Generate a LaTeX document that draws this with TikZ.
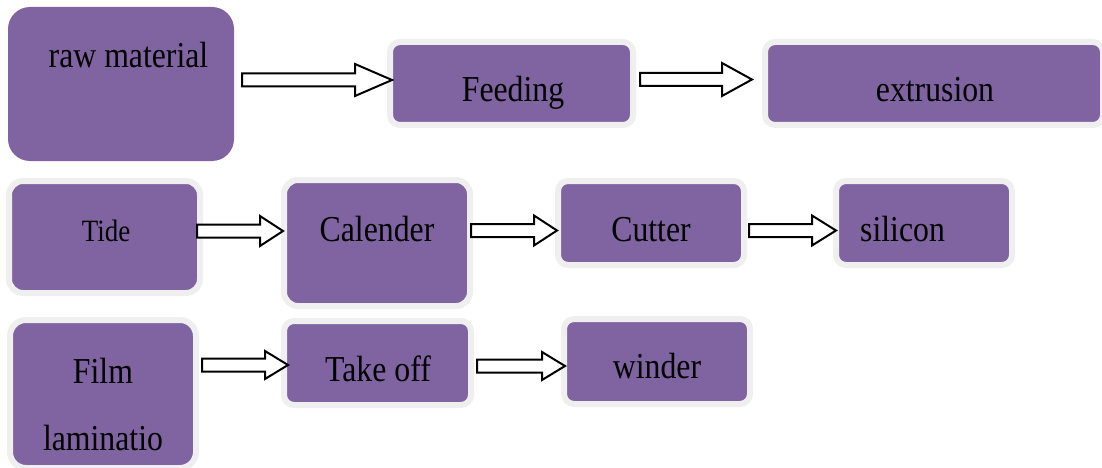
\documentclass[tikz,border=0pt]{standalone}
\usepackage{fontspec}
\setmainfont{Liberation Serif}
\newfontfamily\capfont[FakeStretch=0.87]{Liberation Serif}
\usetikzlibrary{calc}
\definecolor{boxpurple}{HTML}{8064A2}
\definecolor{halo}{HTML}{EFEFEF}
\tikzset{
  stage/.style={fill=boxpurple, draw=halo, line width=6pt, inner sep=0pt},
  plainstage/.style={fill=boxpurple, draw=none, inner sep=0pt},
  caption/.style={anchor=base, inner sep=0pt, font=\capfont\fontsize{36.5}{40}\selectfont, text=black},
  smallcaption/.style={caption, font=\capfont\fontsize{31}{34}\selectfont},
  flowarrow/.style={draw=black, fill=white, line width=2pt, line join=miter},
}
% \stagebox{name}{left}{top}{right}{bottom}{corner radius}: purple area bounds
\newcommand\stagebox[6]{%
  \node[stage, rounded corners=#6pt,
        minimum width={#4-#2+6}, minimum height={#5-#3+6}]
    (#1) at ({(#2+#4)/2},{(#3+#5)/2}) {};}
% \blockarrow{tail}{tip}{head length}{head half width}
\newcommand\blockarrow[4]{%
  \draw[flowarrow] let \p1=(#1), \p2=(#2) in
    (\x1,{\y1+6.5pt}) -- ({\x2-#3pt},{\y1+6.5pt}) -- ({\x2-#3pt},{\y1+#4pt})
    -- (\x2,\y1) -- ({\x2-#3pt},{\y1-#4pt}) -- ({\x2-#3pt},{\y1-6.5pt})
    -- (\x1,{\y1-6.5pt}) -- cycle;}
\begin{document}
\begin{tikzpicture}[x=1pt, y=-1pt]
\useasboundingbox (0,0) rectangle (1102,468);

% first row
\node[plainstage, rounded corners=22pt, minimum width=226, minimum height=154]
  (raw) at (121,84) {};
\stagebox{feed}{393}{45}{630}{122}{10}
\stagebox{extr}{768}{45}{1100}{122}{10}

% second row
\stagebox{tide}{12}{184}{197}{290}{14}
\stagebox{cal}{287}{183}{467}{303}{14}
\stagebox{cut}{561}{184}{741}{262}{10}
\stagebox{sil}{839}{184}{1009}{262}{10}

% third row
\stagebox{film}{13}{323}{193}{465}{16}
\stagebox{take}{287}{324}{468}{402}{10}
\stagebox{wind}{567}{322}{747}{401}{10}

% captions
\node[caption] (traw)  at (128.5,68) {raw material};
\node[caption] (tfeed) at (513,102) {Feeding};
\node[caption] (textr) at (935,102) {extrusion};
\node[smallcaption] (ttide) at (106,241) {Tide};
\node[caption] (tcal)  at (377,241) {Calender};
\node[caption] (tcut)  at (651,241) {Cutter};
\node[caption, anchor=base west] (tsil) at (860,241) {silicon};
\node[caption] (tfilm) at (103,383) {Film};
\node[caption] (tlam)  at (103,450) {laminatio};
\node[caption] (ttake) at (378,381) {Take off};
\node[caption] (twind) at (657,378) {winder};

% connectors
\coordinate (a1s) at ($(raw.east)+(8,-4)$);     \coordinate (a1e) at ($(feed.west)+(5,0)$);
\coordinate (a2s) at ($(feed.east)+(4,-4)$);    \coordinate (a2e) at ($(extr.west)+(-10,0)$);
\coordinate (a3s) at ($(tide.east)+(-6,-6)$);   \coordinate (a3e) at ($(cal.west)+(2,0)$);
\coordinate (a4s) at ($(cal.east)+(-2,-12.5)$); \coordinate (a4e) at ($(cut.west)+(2,0)$);
\coordinate (a5s) at ($(cut.east)+(2,7.5)$);    \coordinate (a5e) at ($(sil.west)+(3,0)$);
\coordinate (a6s) at ($(film.east)+(3,-29)$);   \coordinate (a6e) at ($(take.west)+(7,0)$);
\coordinate (a7s) at ($(take.east)+(3,3)$);     \coordinate (a7e) at ($(wind.west)+(4,0)$);
\blockarrow{a1s}{a1e}{37}{16}
\blockarrow{a2s}{a2e}{30}{16.5}
\blockarrow{a3s}{a3e}{23}{15}
\blockarrow{a4s}{a4e}{23}{15}
\blockarrow{a5s}{a5e}{24}{15}
\blockarrow{a6s}{a6e}{23}{14}
\blockarrow{a7s}{a7e}{23}{14}
\end{tikzpicture}
\end{document}
